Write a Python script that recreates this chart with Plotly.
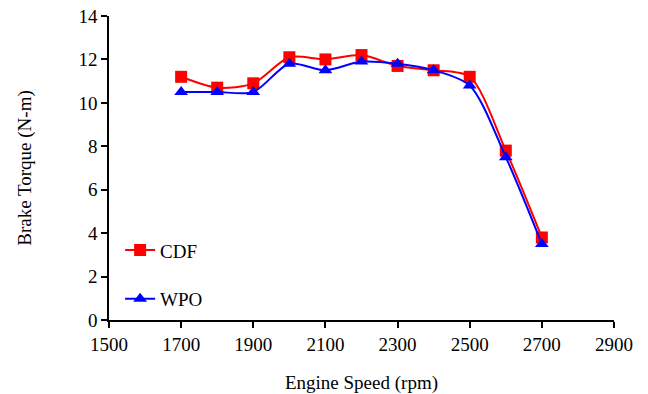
import plotly.graph_objects as go

speed = [1700, 1800, 1900, 2000, 2100, 2200, 2300, 2400, 2500, 2600, 2700]
cdf = [11.2, 10.7, 10.9, 12.1, 12.0, 12.2, 11.7, 11.5, 11.2, 7.8, 3.8]
wpo = [10.5, 10.5, 10.5, 11.8, 11.5, 11.9, 11.8, 11.5, 10.8, 7.5, 3.5]

font = dict(family="Liberation Serif, Times New Roman, serif", color="#000000")

fig = go.Figure()
fig.add_trace(go.Scatter(x=speed, y=cdf, name="CDF", mode="lines+markers",
                         line=dict(color="#ff0000", width=2, shape="spline", smoothing=0.8),
                         marker=dict(symbol="square", size=12, color="#ff0000"),
                         legendgroup="a"))
fig.add_trace(go.Scatter(x=speed, y=wpo, name="WPO", mode="lines+markers",
                         line=dict(color="#0000ff", width=2, shape="spline", smoothing=0.8),
                         marker=dict(symbol="triangle-up", size=12, color="#0000ff"),
                         legendgroup="b"))

fig.update_layout(
    width=648, height=394,
    margin=dict(l=109, r=34, t=16, b=74),
    paper_bgcolor="white", plot_bgcolor="white",
    font=dict(size=19, **font),
    showlegend=True,
    legend=dict(x=0.022, y=0.292, xanchor="left", yanchor="top",
                font=dict(size=19, **font), bgcolor="rgba(0,0,0,0)",
                tracegroupgap=21, traceorder="grouped"),
    xaxis=dict(range=[1500, 2900], tickvals=[1500, 1700, 1900, 2100, 2300, 2500, 2700, 2900],
               showgrid=False, zeroline=False, showline=True, linecolor="#000", linewidth=1.5,
               ticks="outside", ticklen=6, tickcolor="#000", tickwidth=1.5, automargin=False,
               title=dict(text="Engine Speed (rpm)", font=dict(size=19, **font), standoff=24),
               tickfont=dict(size=19, **font)),
    yaxis=dict(range=[0, 14], dtick=2,
               showgrid=False, zeroline=False, showline=True, linecolor="#000", linewidth=1.5,
               ticks="outside", ticklen=6, tickcolor="#000", tickwidth=1.5, automargin=False,
               title=dict(text="Brake Torque (N-m)", font=dict(size=19, **font), standoff=42),
               tickfont=dict(size=19, **font)),
)

fig.write_html("out.html")
